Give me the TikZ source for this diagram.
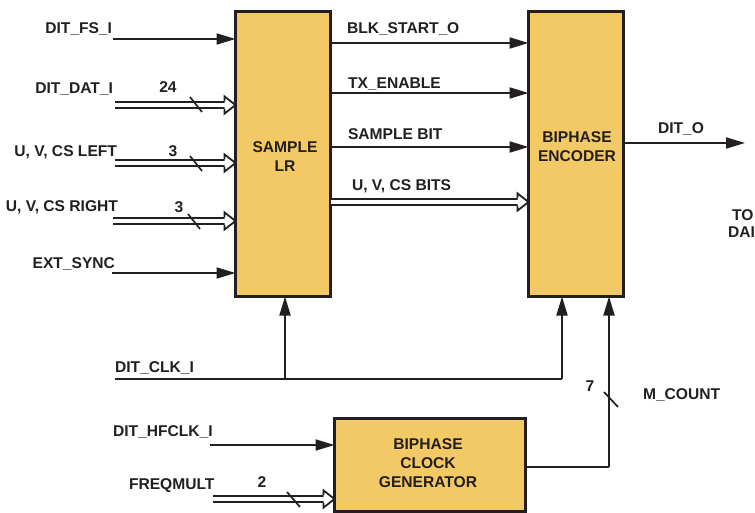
\documentclass[tikz,border=0pt]{standalone}
\usepackage{fontspec}
\setmainfont{Liberation Sans}
\usetikzlibrary{arrows.meta,calc}
\definecolor{boxfill}{HTML}{F3C965}
\definecolor{ink}{HTML}{231F20}
\newcommand\busarr[2]{%
  \draw[busline] (#1) -- ($(#2)+(-11,0)$);
  \filldraw[bushead] ($(#2)+(-11,-3.8)$) -- ++(0,-4.8) -- (#2) -- ++(-11,8.6) -- ++(0,-4.8);
}
\begin{document}
\begin{tikzpicture}[x=1pt,y=-1pt,
  every node/.style={font=\fontsize{15.6}{19}\selectfont\bfseries, text=ink, inner sep=0pt, outer sep=0pt},
  blockbox/.style={draw=ink, fill=boxfill, line width=3pt, inner sep=0pt},
  boxtext/.style={align=center, anchor=center},
  sig/.style={draw=ink, line width=2pt, -{Triangle[length=19pt,width=11pt]}},
  wire/.style={draw=ink, line width=2pt},
  busline/.style={draw=ink, line width=2pt, double=white, double distance=3.6pt},
  bushead/.style={draw=ink, fill=white, line width=1.8pt, line join=miter},
  slashmark/.style={draw=ink, line width=1.7pt},
  lab/.style={anchor=base east},
  labl/.style={anchor=base west},
  num/.style={anchor=base}
]
\useasboundingbox (0,0) rectangle (755,513);

% blocks
\node[blockbox, minimum width=95pt, minimum height=285pt] (slr) at (283,154) {};
\node[boxtext] (slrt) at (285,157) {SAMPLE\\LR};
\node[blockbox, minimum width=95pt, minimum height=285pt] (enc) at (576,154) {};
\node[boxtext] (enct) at (577,147) {BIPHASE\\ENCODER};
\node[blockbox, minimum width=191pt, minimum height=93pt] (gen) at (430,465) {};
\node[boxtext] (gent) at (428,463) {BIPHASE\\CLOCK\\GENERATOR};

% input free ends
\coordinate (fs) at (113,39);
\coordinate (dat) at (115,105);
\coordinate (uvl) at (115,163);
\coordinate (uvr) at (113,221);
\coordinate (ext) at (112,273);
\coordinate (datE) at (dat -| slr.west);
\coordinate (uvlE) at (uvl -| slr.west);
\coordinate (uvrE) at (uvr -| slr.west);

\draw[sig] (fs) -- (fs -| slr.west);
\busarr{dat}{datE}
\busarr{uvl}{uvlE}
\busarr{uvr}{uvrE}
\draw[sig] (ext) -- (ext -| slr.west);

\node[lab] (lfs) at (112,34) {DIT\_FS\_I};
\node[lab] (ldat) at (113,94) {DIT\_DAT\_I};
\node[lab] (luvl) at (117,157) {U, V, CS LEFT};
\node[lab] (luvr) at (118,212) {U, V, CS RIGHT};
\node[lab] (lext) at (115,269) {EXT\_SYNC};

\node[num] (n24) at (168,93) {24};
\node[num] (n3a) at (173,157) {3};
\node[num] (n3b) at (179,213) {3};
\draw[slashmark] (190,97) -- (202,112);
\draw[slashmark] (190,156) -- (202,171);
\draw[slashmark] (188,214) -- (200,229);

% outputs of sample LR
\coordinate (blk) at (0,43);
\coordinate (txe) at (0,93);
\coordinate (sbt) at (0,147);
\coordinate (uvb) at (0,202);
\coordinate (uvbS) at (uvb -| slr.east);
\coordinate (uvbE) at (uvb -| enc.west);
\draw[sig] (blk -| slr.east) -- (blk -| enc.west);
\draw[sig] (txe -| slr.east) -- (txe -| enc.west);
\draw[sig] (sbt -| slr.east) -- (sbt -| enc.west);
\busarr{uvbS}{uvbE}

\node[labl] (lblk) at (347,34) {BLK\_START\_O};
\node[labl] (ltxe) at (348,89) {TX\_ENABLE};
\node[labl] (lsbt) at (348,140) {SAMPLE BIT};
\node[labl] (luvb) at (352,191) {U, V, CS BITS};

% DIT_O
\coordinate (dito) at (745,143);
\draw[sig] (dito -| enc.east) -- (dito);
\node[labl] (ldito) at (658,134) {DIT\_O};
\node[labl] (lto) at (732,221) {TO};
\node[labl] (ldai) at (728,238) {DAI};

% clock
\coordinate (clk) at (115,379);
\coordinate (clkE) at (562,379);
\coordinate (clkB) at (285,379);
\draw[wire] (clk) -- (clkE);
\draw[sig] (clkE) -- (clkE |- enc.south);
\draw[sig] (clkB) -- (clkB |- slr.south);
\node[labl] (lclk) at (115,372) {DIT\_CLK\_I};

% M_COUNT
\coordinate (mc) at (609,467);
\draw[wire] (mc -| gen.east) -- (mc);
\draw[sig] (mc) -- (mc |- enc.south);
\draw[slashmark] (604,392) -- (618,407);
\node[num] (n7) at (590,391) {7};
\node[labl] (lmc) at (643,399) {M\_COUNT};

% generator inputs
\coordinate (hf) at (210,445);
\coordinate (fm) at (213,499);
\coordinate (fmE) at (fm -| gen.west);
\draw[sig] (hf) -- (hf -| gen.west);
\busarr{fm}{fmE}
\node[labl] (lhf) at (113,436) {DIT\_HFCLK\_I};
\node[labl] (lfm) at (129,489) {FREQMULT};
\node[num] (n2) at (262,487) {2};
\draw[slashmark] (287,492) -- (300,507);
\end{tikzpicture}
\end{document}
